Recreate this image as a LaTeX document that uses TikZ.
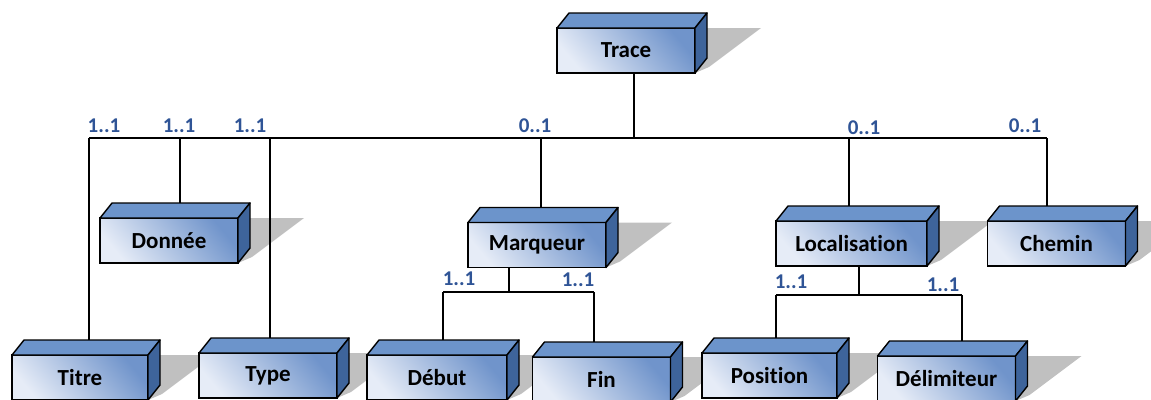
\documentclass[tikz,border=0pt]{standalone}
\usepackage{fontspec}
\setmainfont[Ligatures=NoCommon]{Carlito}
\usetikzlibrary{backgrounds}
\definecolor{topblue}{RGB}{108,148,203}
\definecolor{sideblue}{RGB}{62,100,155}
\definecolor{lightblue}{RGB}{230,236,247}
\definecolor{darkblue}{RGB}{112,148,203}
\definecolor{cardblue}{RGB}{47,84,150}
\definecolor{shadowgray}{RGB}{192,192,192}
\tikzset{
  entity/.style={draw=black,line width=1.4pt,outer sep=0pt,inner sep=0pt,
    minimum width=138pt,minimum height=45pt,
    top color=darkblue,bottom color=lightblue,shading angle=-50,
    font=\fontsize{23}{27}\selectfont\bfseries},
  card/.style={text=cardblue,inner sep=0pt,font=\fontsize{21}{25}\selectfont\bfseries},
  link/.style={line width=1.2pt}
}
% top face, side face and shadow of a box
\newcommand\solid[1]{%
  \begin{pgfonlayer}{background}
  \fill[shadowgray] ([xshift=12pt]#1.north east) -- ([xshift=66pt]#1.north east)
    -- ([xshift=14pt,yshift=6pt]#1.south east) -- (#1.south east) -- cycle;
  \end{pgfonlayer}
  \filldraw[fill=topblue,line width=1.4pt,line join=round] (#1.north west) -- ++(12,-15)
    -- ([shift={(12,-15)}]#1.north east) -- (#1.north east) -- cycle;
  \filldraw[fill=sideblue,line width=1.4pt,line join=round] (#1.north east) -- ++(12,-15)
    -- ([shift={(12,-15)}]#1.south east) -- (#1.south east) -- cycle;
}
\begin{document}
\begin{tikzpicture}[x=1pt,y=-1pt]
\useasboundingbox (0,0) rectangle (1151,399);
\clip (0,0) rectangle (1151,399);

\node[entity] (trace) at (626,50.5) {Trace};
\node[entity] (donnee) at (169,240.5) {Donnée};
\node[entity] (marqueur) at (537,245) {Marqueur};
\node[entity,minimum width=151pt] (localisation) at (851.5,243.5) {Localisation};
\node[entity] (chemin) at (1056.5,243.5) {Chemin};
\node[entity,minimum width=136pt] (titre) at (80,377.5) {Titre};
\node[entity] (type) at (268,375.5) {Type};
\node[entity,minimum width=140pt] (debut) at (437,377.5) {Début};
\node[entity] (fin) at (601.5,379.5) {Fin};
\node[entity,minimum width=135pt] (position) at (769.5,375.5) {Position};
\node[entity] (delimiteur) at (946.5,378.5) {Délimiteur};
\foreach \n in {trace,donnee,marqueur,localisation,chemin,titre,type,debut,fin,position,delimiteur} {
  \solid{\n}
}

\begin{pgfonlayer}{background}
% main bus
\coordinate (bus) at (634,138);
\coordinate (bus-l) at (89,138);
\coordinate (bus-r) at (1047,138);
\draw[link] (bus |- trace.south) -- (bus);
\draw[link] (bus-l) -- (bus-r);
\foreach \n/\x in {titre/89,donnee/180,type/270,marqueur/541,localisation/849,chemin/1047} {
  \coordinate (j) at (\x,138);
  \draw[link] (j) -- (j |- \n.north);
}
% Marqueur
\coordinate (mq) at (509,292);
\coordinate (mq-l) at (443,292);
\coordinate (mq-r) at (594,292);
\draw[link] (mq |- marqueur.south) -- (mq);
\draw[link] (mq-l) -- (mq-r);
\draw[link] (mq-l) -- (mq-l |- debut.north);
\draw[link] (mq-r) -- (mq-r |- fin.north);
% Localisation
\coordinate (lc) at (859,295);
\coordinate (lc-l) at (776,295);
\coordinate (lc-r) at (962,295);
\draw[link] (lc |- localisation.south) -- (lc);
\draw[link] (lc-l) -- (lc-r);
\draw[link] (lc-l) -- (lc-l |- position.north);
\draw[link] (lc-r) -- (lc-r |- delimiteur.north);
\end{pgfonlayer}

% cardinalities
\node[card] (c-titre) at (104,125.5) {1..1};
\node[card] (c-donnee) at (179,125.5) {1..1};
\node[card] (c-type) at (250,126) {1..1};
\node[card] (c-marqueur) at (535,125.5) {0..1};
\node[card] (c-localisation) at (864,127.5) {0..1};
\node[card] (c-chemin) at (1025,125.5) {0..1};
\node[card] (c-debut) at (459,279) {1..1};
\node[card] (c-fin) at (578,280) {1..1};
\node[card] (c-position) at (791,282) {1..1};
\node[card] (c-delimiteur) at (943,285) {1..1};
\end{tikzpicture}
\end{document}
